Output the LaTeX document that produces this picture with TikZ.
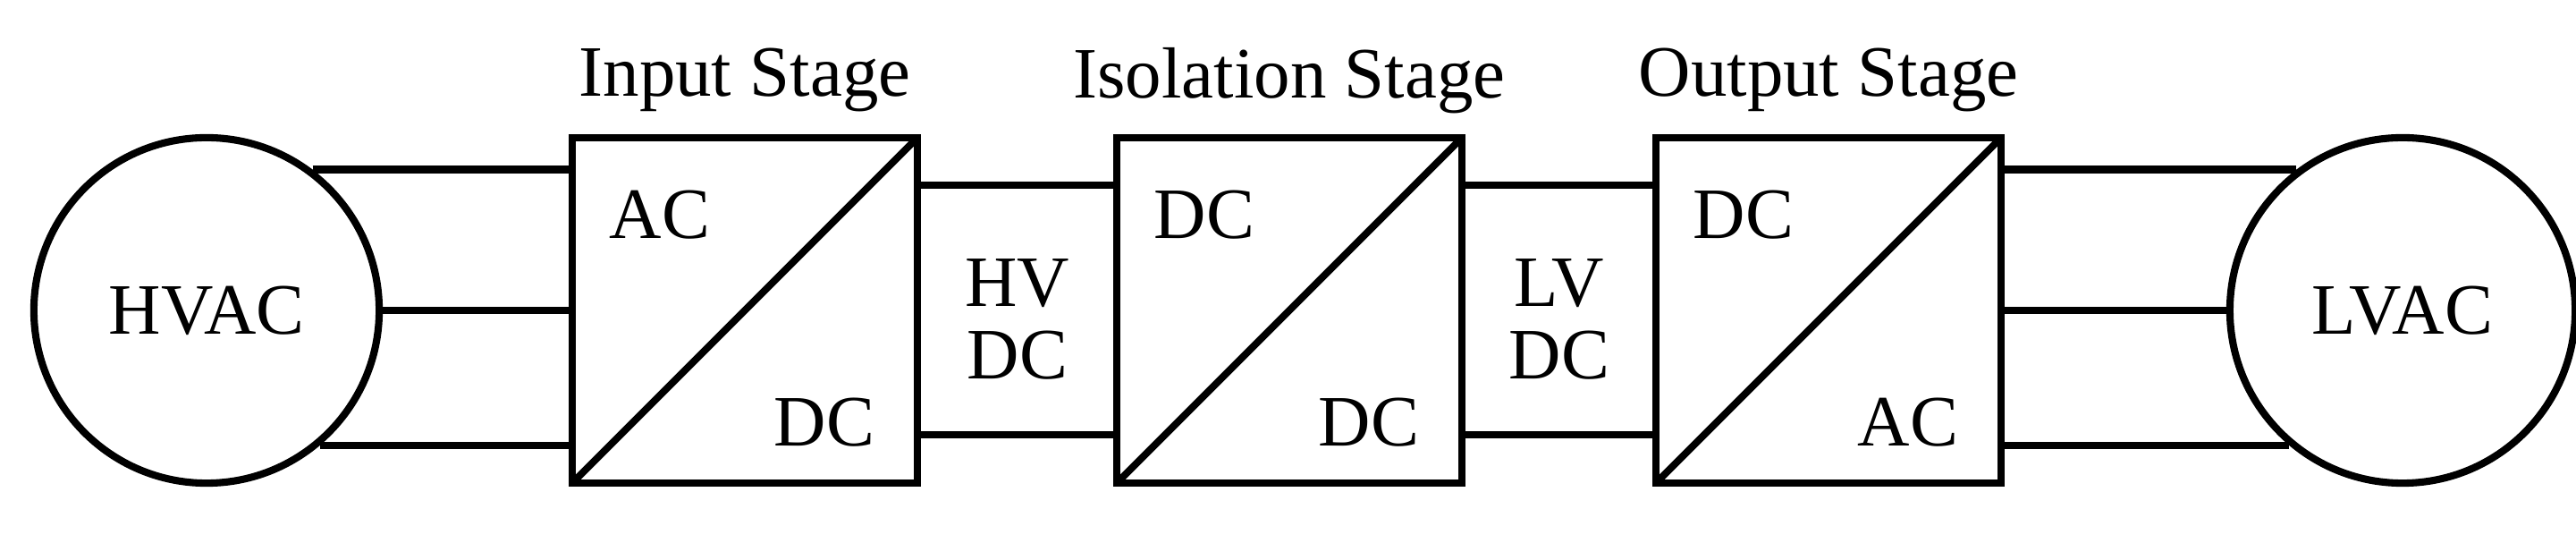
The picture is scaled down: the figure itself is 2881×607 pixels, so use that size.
\documentclass[tikz,border=0pt]{standalone}
\usepackage{fontspec}
\setmainfont{Liberation Serif}
\begin{document}
\begin{tikzpicture}[x=0.01cm, y=-0.01cm, line width=2.3pt,
        conv/.style={draw, minimum width=3.86cm, minimum height=3.86cm, inner sep=0pt},
        src/.style={draw, circle, minimum size=3.86cm, inner sep=0pt, font=\fontsize{23}{27}\selectfont},
        lbl/.style={font=\fontsize{23}{27}\selectfont, inner sep=0pt, align=center}
    ]
        \useasboundingbox (0,0) rectangle (2881,607);
        \node[src] (hvac) at (231,347) {HVAC};
        \node[src] (lvac) at (2687,347) {LVAC};
        \node[conv] (in) at (833,347) {};
        \node[conv] (iso) at (1442,347) {};
        \node[conv] (out) at (2045,347) {};
        
        \draw[shorten <=1.5pt, shorten >=1.5pt] (in.south west) -- (in.north east);
        \draw[shorten <=1.5pt, shorten >=1.5pt] (iso.south west) -- (iso.north east);
        \draw[shorten <=1.5pt, shorten >=1.5pt] (out.south west) -- (out.north east);
        
        \node[lbl] at (in.north) [yshift=0.6cm] {Input Stage};
        \node[lbl] at (iso.north) [yshift=0.6cm] {Isolation Stage};
        \node[lbl] at (out.north) [yshift=0.6cm] {Output Stage};
        
        \node[lbl] (inac) at (738,240) {AC};
        \node[lbl] (indc) at (922,472) {DC};
        \node[lbl] (isodc1) at (1347,240) {DC};
        \node[lbl] (isodc2) at (1531,472) {DC};
        \node[lbl] (outdc) at (1950,240) {DC};
        \node[lbl] (outac) at (2134,472) {AC};
        
        \node[lbl, font=\fontsize{23}{23}\selectfont] (hvdc) at (1138,357) {HV\\DC};
        \node[lbl, font=\fontsize{23}{23}\selectfont] (lvdc) at (1744,357) {LV\\DC};
        
        \draw (hvac.53) -- (hvac.53 -| in.west);
        \draw (hvac.east) -- (in.west);
        \draw (hvac.-50) -- (hvac.-50 -| in.west);
        \draw (lvac.127) -- (lvac.127 -| out.east);
        \draw (lvac.west) -- (out.east);
        \draw (lvac.-130) -- (lvac.-130 -| out.east);
        
        \draw ([yshift=-0.57cm]in.north east) -- ([yshift=-0.57cm]iso.north west);
        \draw ([yshift=0.58cm]in.south east) -- ([yshift=0.58cm]iso.south west);
        \draw ([yshift=-0.57cm]iso.north east) -- ([yshift=-0.57cm]out.north west);
        \draw ([yshift=0.58cm]iso.south east) -- ([yshift=0.58cm]out.south west);
    \end{tikzpicture}
\end{document}
